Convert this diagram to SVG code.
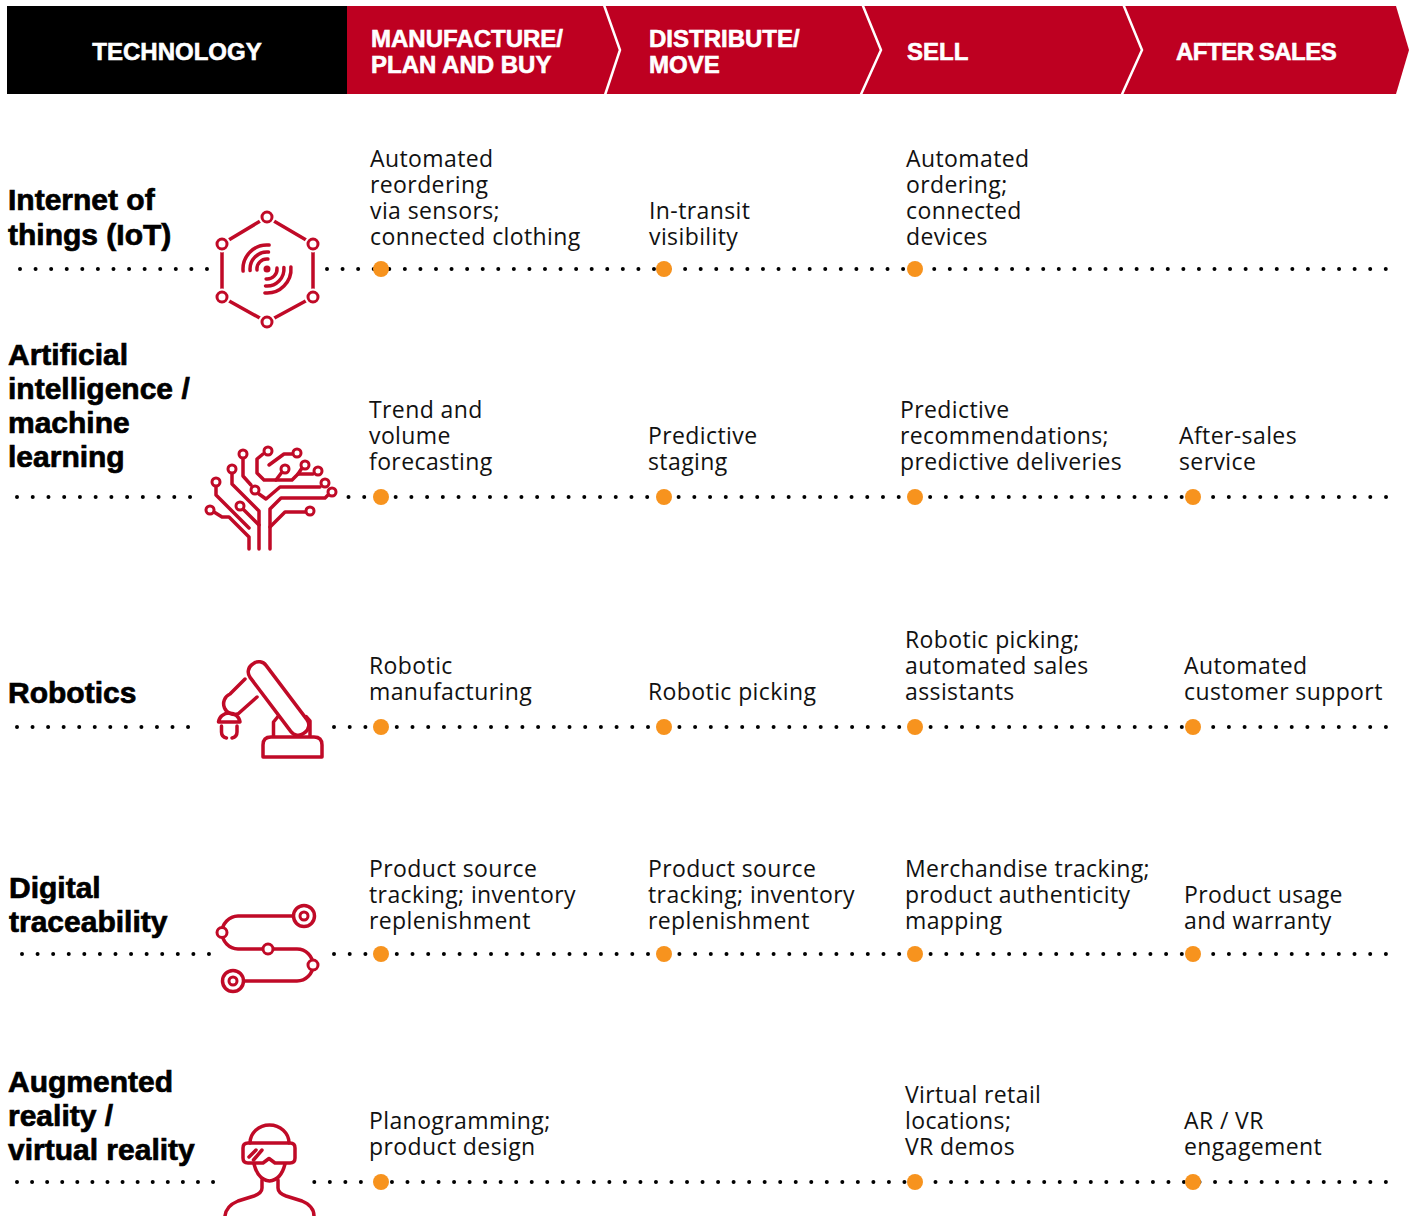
<svg xmlns="http://www.w3.org/2000/svg" width="1414" height="1216" viewBox="0 0 1414 1216">
<style>
.hd{font-family:"Liberation Sans",Arial,sans-serif;font-weight:bold;font-size:24px;fill:#fff;stroke:#fff;stroke-width:0.6}
.lb{font-family:"Liberation Sans",Arial,sans-serif;font-weight:bold;font-size:30px;fill:#000;stroke:#000;stroke-width:0.7}
.tx{font-family:"Open Sans","Liberation Sans",sans-serif;font-size:23px;letter-spacing:0.4px;fill:#111}
.dots{stroke:#000;stroke-width:4;stroke-linecap:round;fill:none}
.od{fill:#F7931E}
.ic{fill:none;stroke:#C00A27;stroke-width:3.5;stroke-linecap:round;stroke-linejoin:round}
.nd{fill:#fff;stroke:#C00A27;stroke-width:3}
.sep{fill:none;stroke:#fff;stroke-width:2.5}
</style>
<rect width="1414" height="1216" fill="#fff"/>

<g id="header">
<rect x="7" y="6" width="340" height="88" fill="#000"/>
<path d="M347,6 H1396 L1409,50 L1396,94 H347 Z" fill="#BE0021"/>
<polyline class="sep" points="604,5 620,50 605,95"/>
<polyline class="sep" points="862.6,5 881,50 860.7,95"/>
<polyline class="sep" points="1123.5,5 1142,50 1121.7,95"/>
<text class="hd" x="177" y="60" text-anchor="middle">TECHNOLOGY</text>
<text class="hd" x="371" y="47">MANUFACTURE/</text>
<text class="hd" x="371" y="73">PLAN AND BUY</text>
<text class="hd" x="649" y="47">DISTRIBUTE/</text>
<text class="hd" x="649" y="73">MOVE</text>
<text class="hd" x="907" y="60">SELL</text>
<text class="hd" x="1176" y="60" letter-spacing="-0.5" word-spacing="-1">AFTER SALES</text>
</g>

<g id="connectors">
<line class="dots" stroke-dasharray="0 15.58" x1="20" y1="269" x2="207.5" y2="269"/>
<line class="dots" stroke-dasharray="0 15.57" x1="327" y1="269" x2="1386.5" y2="269"/>
<line class="dots" stroke-dasharray="0 15.73" x1="17" y1="497" x2="190.5" y2="497"/>
<line class="dots" stroke-dasharray="0 15.72" x1="348.5" y1="497" x2="1386.5" y2="497"/>
<line class="dots" stroke-dasharray="0 15.55" x1="17" y1="727" x2="188.5" y2="727"/>
<line class="dots" stroke-dasharray="0 15.70" x1="334" y1="727" x2="1386.5" y2="727"/>
<line class="dots" stroke-dasharray="0 15.58" x1="22" y1="954" x2="209.5" y2="954"/>
<line class="dots" stroke-dasharray="0 15.70" x1="334" y1="954" x2="1386.5" y2="954"/>
<line class="dots" stroke-dasharray="0 15.08" x1="17" y1="1182" x2="213.5" y2="1182"/>
<line class="dots" stroke-dasharray="0 15.53" x1="314.3" y1="1182" x2="1386.5" y2="1182"/>
</g>

<g id="row-iot">
<text class="lb" x="8" y="210">Internet of</text>
<text class="lb" x="8" y="245">things (IoT)</text>
<g id="icon-iot">
<polygon class="ic" points="267,217 313,244 313,297 267,322 222,297 222,244"/>
<g fill="#fff"><circle cx="267" cy="217" r="8.5"/><circle cx="313" cy="244" r="8.5"/><circle cx="313" cy="297" r="8.5"/><circle cx="267" cy="322" r="8.5"/><circle cx="222" cy="297" r="8.5"/><circle cx="222" cy="244" r="8.5"/></g>
<circle class="nd" cx="267" cy="217" r="5"/><circle class="nd" cx="313" cy="244" r="5"/><circle class="nd" cx="313" cy="297" r="5"/><circle class="nd" cx="267" cy="322" r="5"/><circle class="nd" cx="222" cy="297" r="5"/><circle class="nd" cx="222" cy="244" r="5"/>
<circle cx="267" cy="269" r="3.5" fill="#C00A27"/>
<path class="ic" d="M257,269.9 A10,10 0 0 1 267.9,259 M250.1,270.5 A17,17 0 0 1 268.5,252.1 M243.1,271.1 A24,24 0 0 1 269.1,245.1"/>
<path class="ic" d="M277,268.1 A10,10 0 0 1 266.1,279 M283.9,267.5 A17,17 0 0 1 265.5,286 M290.9,266.9 A24,24 0 0 1 264.9,292.9"/>
</g>
<circle class="od" cx="381" cy="269" r="8"/><circle class="od" cx="664" cy="269" r="8"/><circle class="od" cx="915" cy="269" r="8"/>
<text class="tx" x="370" y="167">Automated</text>
<text class="tx" x="370" y="193">reordering</text>
<text class="tx" x="370" y="219">via sensors;</text>
<text class="tx" x="370" y="245">connected clothing</text>
<text class="tx" x="649" y="219">In-transit</text>
<text class="tx" x="649" y="245">visibility</text>
<text class="tx" x="906" y="167">Automated</text>
<text class="tx" x="906" y="193">ordering;</text>
<text class="tx" x="906" y="219">connected</text>
<text class="tx" x="906" y="245">devices</text>
</g>

<g id="row-ai">
<text class="lb" x="8" y="365">Artificial</text>
<text class="lb" x="8" y="399">intelligence /</text>
<text class="lb" x="8" y="433">machine</text>
<text class="lb" x="8" y="467">learning</text>
<g id="icon-ai">
<path class="ic" d="M214,512 L222,517 H229 L249,537 V549"/>
<path class="ic" d="M216,487 V495 L249,528"/>
<path class="ic" d="M243,509 L259,525"/>
<path class="ic" d="M232,474 V484 L259,511 V549"/>
<path class="ic" d="M243,459 V476 L251,485"/>
<path class="ic" d="M259,494 L266,499 L280,487 H320"/>
<path class="ic" d="M270,549 V509 L281,498 H325 L328,495"/>
<path class="ic" d="M270,527 L285,512 H305"/>
<path class="ic" d="M263,454 L257,459 V473 L264,480 H292 L298,474 H313"/>
<path class="ic" d="M302,468 L298,474"/>
<path class="ic" d="M282,472 L276,480"/>
<path class="ic" d="M292,454 H284 L269,465"/>
<circle class="nd" cx="243" cy="454" r="4"/><circle class="nd" cx="268" cy="451" r="4"/><circle class="nd" cx="297" cy="453" r="4"/>
<circle class="nd" cx="232" cy="469" r="4"/><circle class="nd" cx="285" cy="469" r="4"/><circle class="nd" cx="305" cy="465" r="4"/>
<circle class="nd" cx="318" cy="471" r="4"/><circle class="nd" cx="216" cy="482" r="4"/><circle class="nd" cx="255" cy="490" r="4"/>
<circle class="nd" cx="325" cy="483" r="4"/><circle class="nd" cx="332" cy="492" r="4"/><circle class="nd" cx="240" cy="506" r="4"/>
<circle class="nd" cx="210" cy="510" r="4"/><circle class="nd" cx="310" cy="511" r="4"/>
</g>
<circle class="od" cx="381" cy="497" r="8"/><circle class="od" cx="664" cy="497" r="8"/><circle class="od" cx="915" cy="497" r="8"/><circle class="od" cx="1193" cy="497" r="8"/>
<text class="tx" x="369" y="418">Trend and</text>
<text class="tx" x="369" y="444">volume</text>
<text class="tx" x="369" y="470">forecasting</text>
<text class="tx" x="648" y="444">Predictive</text>
<text class="tx" x="648" y="470">staging</text>
<text class="tx" x="900" y="418">Predictive</text>
<text class="tx" x="900" y="444">recommendations;</text>
<text class="tx" x="900" y="470">predictive deliveries</text>
<text class="tx" x="1179" y="444">After-sales</text>
<text class="tx" x="1179" y="470">service</text>
</g>

<g id="row-robotics">
<text class="lb" x="8" y="703">Robotics</text>
<g id="icon-robot">
<path class="ic" d="M263,757 V745 Q263,737 271,737 H314 Q322,737 322,745 V757 Z"/>
<path class="ic" d="M273.5,736 V722 L278,716.5 M310,736 V721 L306,716.5"/>
<rect class="ic" x="-43" y="-10" width="86" height="20" rx="9" transform="translate(278.5,698.5) rotate(53)"/>
<path class="ic" d="M245,679 L230,694 A10.5,10.5 0 0 0 238.5,713.5 L257,697"/>
<path class="ic" d="M218.5,722 A10.8,10 0 0 1 240,722 Z"/>
<path class="ic" d="M221.5,726 V732 Q221.5,737 226.5,738 M237,726 V732 Q237,737 232,738"/>
</g>
<circle class="od" cx="381" cy="727" r="8"/><circle class="od" cx="664" cy="727" r="8"/><circle class="od" cx="915" cy="727" r="8"/><circle class="od" cx="1193" cy="727" r="8"/>
<text class="tx" x="369" y="674">Robotic</text>
<text class="tx" x="369" y="700">manufacturing</text>
<text class="tx" x="648" y="700">Robotic picking</text>
<text class="tx" x="905" y="648">Robotic picking;</text>
<text class="tx" x="905" y="674">automated sales</text>
<text class="tx" x="905" y="700">assistants</text>
<text class="tx" x="1184" y="674">Automated</text>
<text class="tx" x="1184" y="700">customer support</text>
</g>

<g id="row-traceability">
<text class="lb" x="9" y="898">Digital</text>
<text class="lb" x="9" y="932">traceability</text>
<g id="icon-trace">
<path class="ic" d="M293,916 H238 A16.5,16.5 0 0 0 222,932.5 A16.5,16.5 0 0 0 238,949 H297 A16,16 0 0 1 313,965 A16,16 0 0 1 297,981 H244"/>
<circle cx="304" cy="916" r="10.5" class="ic"/><circle cx="304" cy="916" r="4" class="nd"/>
<circle cx="233" cy="981" r="10.5" class="ic"/><circle cx="233" cy="981" r="4" class="nd"/>
<circle class="nd" cx="222" cy="932.5" r="5"/><circle class="nd" cx="268" cy="949" r="5"/><circle class="nd" cx="313" cy="965" r="5"/>
</g>
<circle class="od" cx="381" cy="954" r="8"/><circle class="od" cx="664" cy="954" r="8"/><circle class="od" cx="915" cy="954" r="8"/><circle class="od" cx="1193" cy="954" r="8"/>
<text class="tx" x="369" y="877">Product source</text>
<text class="tx" x="369" y="903">tracking; inventory</text>
<text class="tx" x="369" y="929">replenishment</text>
<text class="tx" x="648" y="877">Product source</text>
<text class="tx" x="648" y="903">tracking; inventory</text>
<text class="tx" x="648" y="929">replenishment</text>
<text class="tx" x="905" y="877">Merchandise tracking;</text>
<text class="tx" x="905" y="903">product authenticity</text>
<text class="tx" x="905" y="929">mapping</text>
<text class="tx" x="1184" y="903">Product usage</text>
<text class="tx" x="1184" y="929">and warranty</text>
</g>

<g id="row-arvr">
<text class="lb" x="8" y="1092">Augmented</text>
<text class="lb" x="8" y="1126">reality /</text>
<text class="lb" x="8" y="1160">virtual reality</text>
<g id="icon-arvr">
<path class="ic" d="M250,1143 A19.5,18 0 0 1 289,1143"/>
<path class="ic" d="M248,1143 H290 Q295,1143 295,1148 V1158 Q295,1163 290,1163 H275 L269,1158.5 L263,1163 H248 Q243,1163 243,1158 V1148 Q243,1143 248,1143 Z"/>
<path class="ic" d="M249,1157 L256,1150 M253.5,1160 L262,1150"/>
<path class="ic" d="M254,1164 Q258,1180 269.5,1181 Q281,1180 285,1164"/>
<path class="ic" d="M262,1180 V1188 Q262,1193 254,1196 L238,1201 Q226,1206 225,1216"/>
<path class="ic" d="M278,1180 V1188 Q278,1193 286,1196 L302,1201 Q314,1206 314,1216"/>
</g>
<circle class="od" cx="381" cy="1182" r="8"/><circle class="od" cx="915" cy="1182" r="8"/><circle class="od" cx="1193" cy="1182" r="8"/>
<text class="tx" x="369" y="1129">Planogramming;</text>
<text class="tx" x="369" y="1155">product design</text>
<text class="tx" x="905" y="1103">Virtual retail</text>
<text class="tx" x="905" y="1129">locations;</text>
<text class="tx" x="905" y="1155">VR demos</text>
<text class="tx" x="1184" y="1129">AR / VR</text>
<text class="tx" x="1184" y="1155">engagement</text>
</g>
</svg>
